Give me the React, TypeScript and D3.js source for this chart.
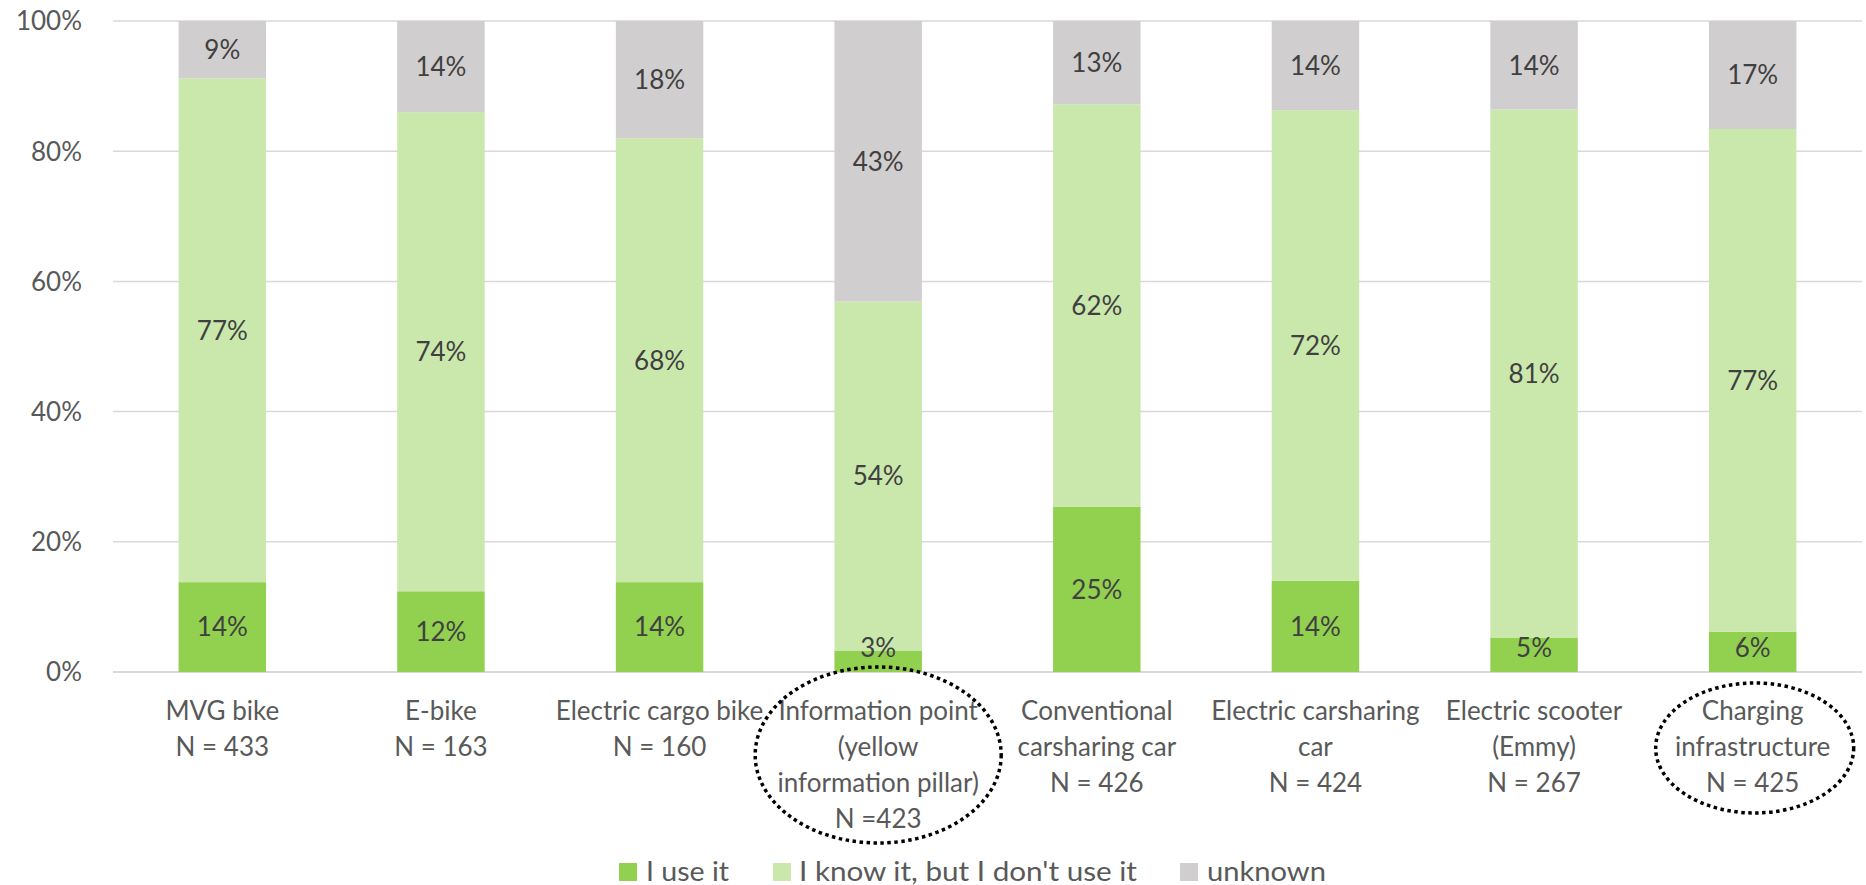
import React from "react";
import * as d3 from "d3";

const categories: string[][] = [
  ["MVG bike", "N = 433"],
  ["E-bike", "N = 163"],
  ["Electric cargo bike", "N = 160"],
  ["Information point", "(yellow", "information pillar)", "N =423"],
  ["Conventional", "carsharing car", "N = 426"],
  ["Electric carsharing", "car", "N = 424"],
  ["Electric scooter", "(Emmy)", "N = 267"],
  ["Charging", "infrastructure", "N = 425"],
];
const useValues = [13.8, 12.4, 13.8, 3.3, 25.4, 14.0, 5.3, 6.2];
const knowValues = [77.4, 73.6, 68.2, 53.6, 61.8, 72.3, 81.1, 77.2];
const unknownValues = [8.8, 14.0, 18.0, 43.1, 12.8, 13.7, 13.6, 16.6];
const seriesNames = ["I use it", "I know it, but I don't use it", "unknown"];
const seriesColors = ["#92D050", "#CAE8AC", "#D0CECE"];
const yTicks = [0, 20, 40, 60, 80, 100];

const W = 1866;
const H = 885;
const FONT = "Lato, 'Open Sans', sans-serif";

export default function App() {
  const x = d3
    .scaleBand<number>()
    .domain(categories.map((_, i) => i))
    .range([113, 1862])
    .paddingInner(0.6)
    .paddingOuter(0.3);
  const y = d3.scaleLinear().domain([0, 100]).range([672, 21]);

  const rows = categories.map((_, i) => ({
    i,
    use: useValues[i],
    know: knowValues[i],
    unknown: unknownValues[i],
  }));
  const keys = ["use", "know", "unknown"];
  const stacked = d3.stack<any>().keys(keys)(rows);
  const fmt = (v: number) => d3.format(".0f")(v) + "%";

  const legendItems = [
    { sx: 619, tx: 646, tw: 83 },
    { sx: 773, tx: 799, tw: 338 },
    { sx: 1180, tx: 1207, tw: 119 },
  ];

  const ellipses = [
    { i: 3, cy: 755, rx: 123, ry: 88, dx: 0 },
    { i: 7, cy: 748, rx: 99, ry: 65, dx: 2 },
  ];

  return (
    <svg
      width={W}
      height={H}
      style={{ position: "absolute", left: 0, top: 0, display: "block", background: "#fff" }}
      fontFamily={FONT}
    >
      {yTicks.map((t) => (
        <g key={t}>
          <line
            x1={113}
            x2={1862}
            y1={y(t)}
            y2={y(t)}
            stroke="#D9D9D9"
            strokeWidth={t === 0 ? 2 : 1.5}
          />
          <text
            x={82}
            y={y(t)}
            dy="0.36em"
            textAnchor="end"
            fontSize={26}
            fill="#595959"
          >
            {t + "%"}
          </text>
        </g>
      ))}

      {stacked.map((s, si) => (
        <g key={s.key} fill={seriesColors[si]}>
          {s.map((d, i) => (
            <rect
              key={i}
              x={x(i)!}
              width={x.bandwidth()}
              y={y(d[1])}
              height={y(d[0]) - y(d[1])}
            />
          ))}
        </g>
      ))}

      {stacked.map((s, si) => (
        <g key={"l" + s.key}>
          {s.map((d, i) => {
            let cy = (y(d[0]) + y(d[1])) / 2;
            cy = Math.min(cy, y(0) - 24);
            return (
              <text
                key={i}
                x={x(i)! + x.bandwidth() / 2}
                y={cy}
                dy="0.36em"
                textAnchor="middle"
                fontSize={26}
                fill="#404040"
              >
                {fmt(d[1] - d[0])}
              </text>
            );
          })}
        </g>
      ))}

      {categories.map((lines, i) => (
        <text
          key={i}
          x={x(i)! + x.bandwidth() / 2}
          textAnchor="middle"
          fontSize={26}
          fill="#595959"
        >
          {lines.map((ln, j) => (
            <tspan key={j} x={x(i)! + x.bandwidth() / 2} y={720 + j * 36}>
              {ln}
            </tspan>
          ))}
        </text>
      ))}

      {ellipses.map((e) => (
        <ellipse
          key={e.i}
          cx={x(e.i)! + x.bandwidth() / 2 + e.dx}
          cy={e.cy}
          rx={e.rx}
          ry={e.ry}
          fill="none"
          stroke="#000"
          strokeWidth={3.5}
          strokeDasharray="3.5 3.5"
        />
      ))}

      {seriesNames.map((name, si) => (
        <g key={name}>
          <rect
            x={legendItems[si].sx}
            y={863}
            width={18}
            height={18}
            fill={seriesColors[si]}
          />
          <text
            x={legendItems[si].tx}
            y={881}
            fontSize={27}
            fill="#595959"
            textLength={legendItems[si].tw}
            lengthAdjust="spacingAndGlyphs"
          >
            {name}
          </text>
        </g>
      ))}
    </svg>
  );
}
